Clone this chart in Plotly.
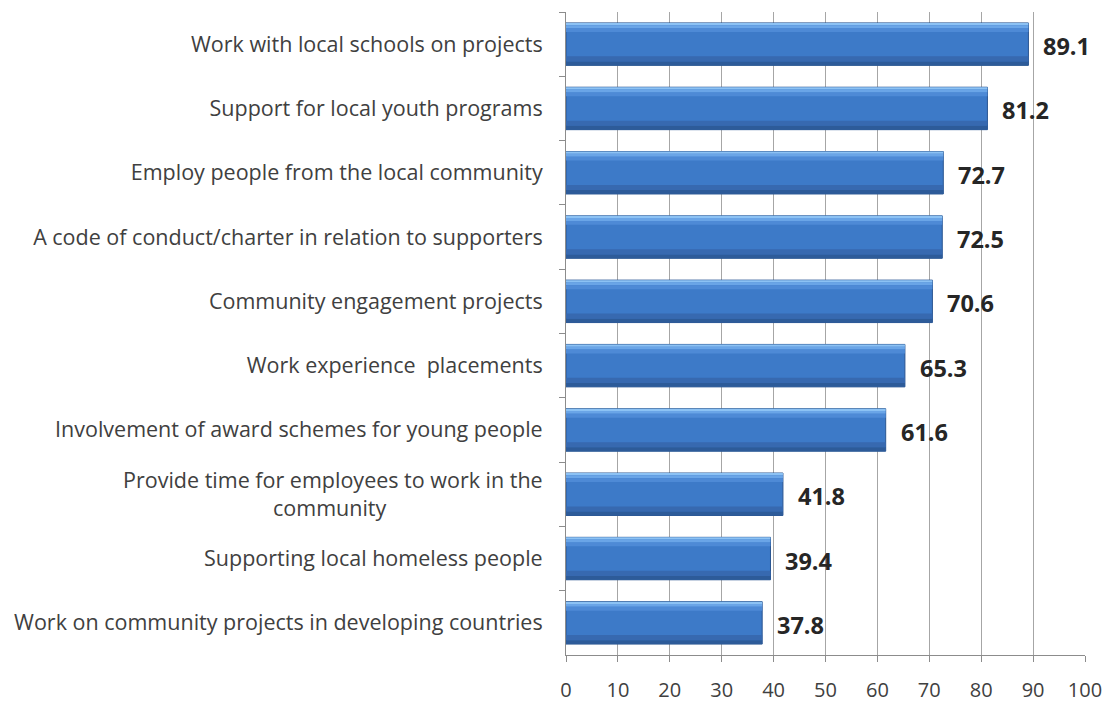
import plotly.graph_objects as go

categories = [
    "Work with local schools on projects",
    "Support for local youth programs",
    "Employ people from the local community",
    "A code of conduct/charter in relation to supporters",
    "Community engagement projects",
    "Work experience  placements",
    "Involvement of award schemes for young people",
    "Provide time for employees to work in the<br>community" + "\u00a0" * 28,
    "Supporting local homeless people",
    "Work on community projects in developing countries",
]
values = [89.1, 81.2, 72.7, 72.5, 70.6, 65.3, 61.6, 41.8, 39.4, 37.8]
x_ticks = [0, 10, 20, 30, 40, 50, 60, 70, 80, 90, 100]

FONT = "'Open Sans', sans-serif"

fig = go.Figure()
# (offset, width, colour) bands emulating the bevelled gradient fill
bands = [
    (-0.33, 0.66, "#3D7AC8"),
    (-0.33, 0.035, "#8CC2F4"),
    (-0.295, 0.045, "#6AA5E7"),
    (-0.25, 0.06, "#4E8AD6"),
    (0.19, 0.08, "#3769B0"),
    (0.27, 0.06, "#2D5B99"),
]
for i, (off, w, col) in enumerate(bands):
    fig.add_trace(go.Bar(
        y=categories, x=values, orientation="h",
        width=w, offset=off,
        marker=dict(color=col,
                    line=dict(color="#2A5590", width=1) if i == 0 else dict(width=0)),
        hoverinfo="skip", showlegend=False,
    ))

for c, v in zip(categories, values):
    fig.add_annotation(
        x=v, y=c, text=f"<b>{v}</b>", showarrow=False,
        xanchor="left", yanchor="middle", xshift=13, yshift=-2,
        font=dict(family=FONT, size=23.5, color="#262626"),
    )

fig.update_layout(
    width=1116, height=708,
    margin=dict(l=566, r=31, t=12, b=53, autoexpand=False),
    paper_bgcolor="white", plot_bgcolor="white",
    barmode="overlay",
    font=dict(family=FONT, size=21.5, color="#404040"),
)
fig.update_xaxes(
    range=[0, 100], tickvals=x_ticks,
    showgrid=True, gridcolor="#A6A6A6", gridwidth=1,
    showline=True, linecolor="#8C8C8C", linewidth=1,
    ticks="outside", ticklen=6, tickcolor="#8C8C8C",
    tickfont=dict(family=FONT, size=20, color="#404040"),
    ticklabelstandoff=11,
    zeroline=False, automargin=False,
)
fig.update_yaxes(
    autorange="reversed",
    showline=True, linecolor="#8C8C8C", linewidth=1,
    ticks="outside", ticklen=6, tickcolor="#8C8C8C",
    tickson="boundaries",
    tickfont=dict(family=FONT, size=21.5, color="#404040"),
    ticklabelstandoff=18,
    showgrid=False, automargin=False,
)

fig.write_html("out.html")
